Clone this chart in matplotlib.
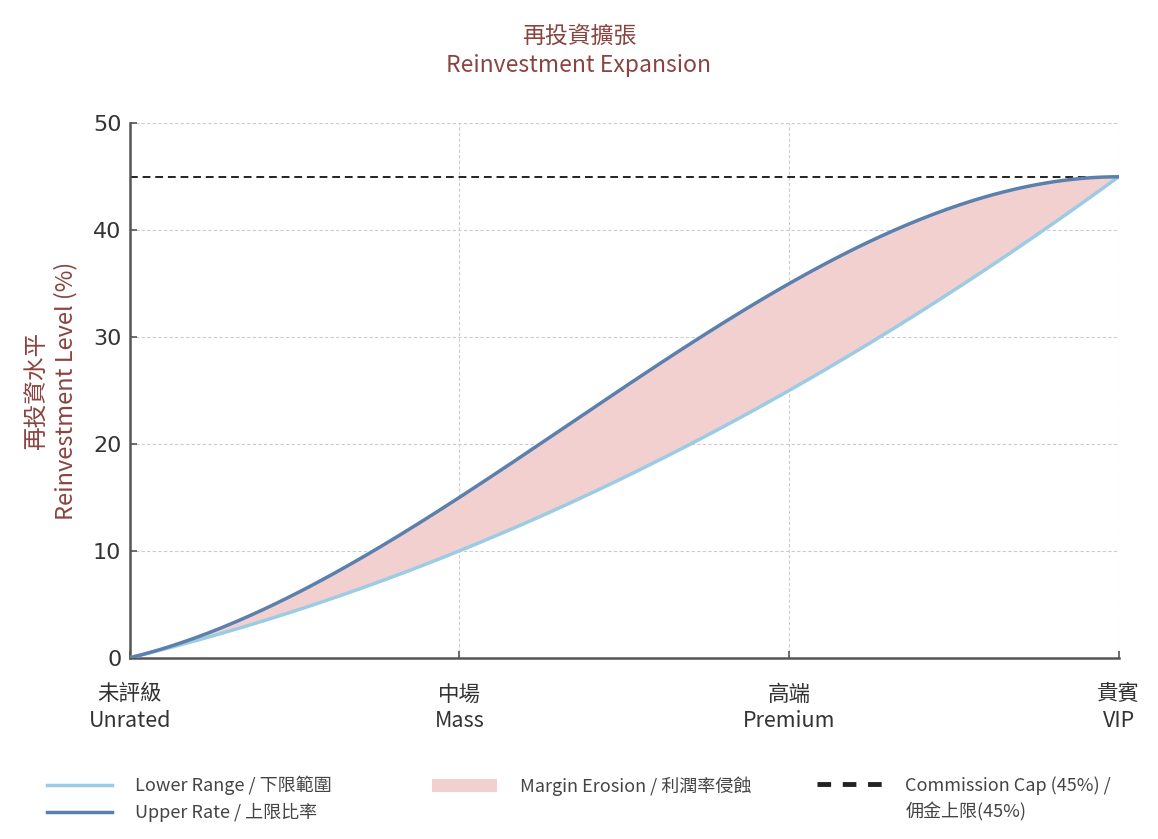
import numpy as np
import matplotlib
matplotlib.use("Agg")
import matplotlib.pyplot as plt
from matplotlib.patches import Patch
from matplotlib.lines import Line2D

plt.rcParams['font.family'] = ['Noto Sans CJK TC', 'DejaVu Sans']

categories = ["未評級\nUnrated", "中場\nMass", "高端\nPremium", "貴賓\nVIP"]
lower_range = [0, 10, 25, 45]
upper_rate = [0, 15, 35, 45]
commission_cap = 45
y_ticks = [0, 10, 20, 30, 40, 50]

title_color = "#8a4440"
upper_color = "#5b80ad"
lower_color = "#9ccbe4"
fill_color = "#f2d0d0"
text_color = "#444444"

x = np.arange(len(categories))
xs = np.linspace(x[0], x[-1], 300)
# smooth cubic through the four points (same as a k=3 spline through 4 knots)
lower_s = np.polyval(np.polyfit(x, lower_range, 3), xs)
upper_s = np.polyval(np.polyfit(x, upper_rate, 3), xs)

fig = plt.figure(figsize=(11.58, 8.39), dpi=100)
ax = fig.add_axes([0.112, 0.216, 0.854, 0.637])

ax.fill_between(xs, lower_s, upper_s, color=fill_color, lw=0, zorder=1)
ax.plot(xs, lower_s, color=lower_color, lw=2.5, zorder=3)
ax.plot(xs, upper_s, color=upper_color, lw=2.5, zorder=4)
ax.plot([x[0], x[-1]], [commission_cap, commission_cap], color="#222222", lw=1.4,
        ls=(0, (4, 2.5)), zorder=2)

ax.set_xlim(x[0], x[-1])
ax.set_ylim(0, 50)
ax.set_xticks(x)
ax.set_xticklabels(categories, fontsize=15.5, color="#333333", linespacing=1.27)
ax.set_yticks(y_ticks)
ax.set_yticklabels([str(v) for v in y_ticks], fontsize=16, color="#333333",
                   family=['DejaVu Sans'])
ax.grid(True, color="#cccccc", ls=(0, (3, 2)), lw=0.8)
ax.set_axisbelow(True)
for s in ["top", "right"]:
    ax.spines[s].set_visible(False)
for s in ["left", "bottom"]:
    ax.spines[s].set_color("#555555")
    ax.spines[s].set_linewidth(1.8)
ax.tick_params(axis='x', direction='in', length=5, width=1.2, color="#555555", pad=18.5)
ax.tick_params(axis='y', direction='in', length=5, width=1.2, color="#555555", pad=6)

ax.set_ylabel("再投資水平\nReinvestment Level (%)", fontsize=17, color=title_color,
              labelpad=11, linespacing=1.25)

fig.text(0.5, 0.957, "再投資擴張", ha='center', va='center', fontsize=16.5, color=title_color)
fig.text(0.5, 0.922, "Reinvestment Expansion", ha='center', va='center', fontsize=16.5,
         color=title_color)

leg_kw = dict(frameon=False, fontsize=13, handlelength=3.6, handletextpad=1.3,
              labelspacing=0.42, borderpad=0, borderaxespad=0, loc='upper left')
top_y = 1 - 776 / 839

leg1 = fig.legend([Line2D([], [], color=lower_color, lw=2.5),
                   Line2D([], [], color=upper_color, lw=2.5)],
                  ["Lower Range / 下限範圍", "Upper Rate / 上限比率"],
                  bbox_to_anchor=(47 / 1158, top_y), **leg_kw)
leg2 = fig.legend([Patch(facecolor=fill_color, edgecolor='none')],
                  ["Margin Erosion / 利潤率侵蝕"],
                  bbox_to_anchor=(432 / 1158, top_y), **leg_kw)
leg3 = fig.legend([Line2D([], [], color="#222222", lw=3.5, ls=(0, (2.8, 2.4))),
                   Line2D([], [], color='none')],
                  ["Commission Cap (45%) /", "佣金上限(45%)"],
                  bbox_to_anchor=(817 / 1158, top_y), **leg_kw)
for lg in (leg1, leg2, leg3):
    for t in lg.get_texts():
        t.set_color(text_color)

fig.savefig("out.png", dpi=100)
